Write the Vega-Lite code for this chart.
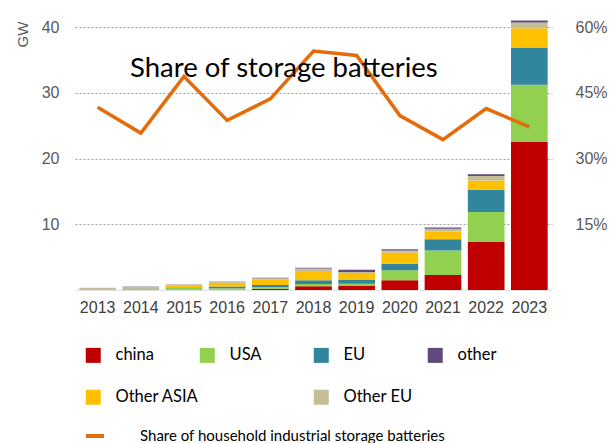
{
  "$schema": "https://vega.github.io/schema/vega-lite/v6.json",
  "autosize": {"type": "none"},
  "width": 477,
  "height": 263,
  "padding": {"left": 75, "top": 27, "right": 59, "bottom": 153},
  "background": "white",
  "config": {"view": {"stroke": null}, "font": "Liberation Sans"},
  "title": {
    "text": "Share of storage batteries",
    "anchor": "start",
    "orient": "top",
    "frame": "group",
    "offset": 0,
    "dx": 55,
    "dy": 85,
    "baseline": "alphabetic",
    "font": "Lato",
    "fontSize": 27.5,
    "fontWeight": "normal",
    "color": "#000000"
  },
  "datasets": {
    "bars": [
      {"year": "2013", "region": "china", "gw": 0},
      {"year": "2013", "region": "USA", "gw": 0.08},
      {"year": "2013", "region": "EU", "gw": 0.02},
      {"year": "2013", "region": "Other ASIA", "gw": 0.05},
      {"year": "2013", "region": "Other EU", "gw": 0.18},
      {"year": "2013", "region": "other", "gw": 0.0},
      {"year": "2014", "region": "china", "gw": 0.02},
      {"year": "2014", "region": "USA", "gw": 0.15},
      {"year": "2014", "region": "EU", "gw": 0.05},
      {"year": "2014", "region": "Other ASIA", "gw": 0.05},
      {"year": "2014", "region": "Other EU", "gw": 0.23},
      {"year": "2014", "region": "other", "gw": 0.03},
      {"year": "2015", "region": "china", "gw": 0.02},
      {"year": "2015", "region": "USA", "gw": 0.3},
      {"year": "2015", "region": "EU", "gw": 0.05},
      {"year": "2015", "region": "Other ASIA", "gw": 0.35},
      {"year": "2015", "region": "Other EU", "gw": 0.08},
      {"year": "2015", "region": "other", "gw": 0.02},
      {"year": "2016", "region": "china", "gw": 0.05},
      {"year": "2016", "region": "USA", "gw": 0.2},
      {"year": "2016", "region": "EU", "gw": 0.3},
      {"year": "2016", "region": "Other ASIA", "gw": 0.55},
      {"year": "2016", "region": "Other EU", "gw": 0.15},
      {"year": "2016", "region": "other", "gw": 0.03},
      {"year": "2017", "region": "china", "gw": 0.2},
      {"year": "2017", "region": "USA", "gw": 0.25},
      {"year": "2017", "region": "EU", "gw": 0.3},
      {"year": "2017", "region": "Other ASIA", "gw": 0.8},
      {"year": "2017", "region": "Other EU", "gw": 0.25},
      {"year": "2017", "region": "other", "gw": 0.05},
      {"year": "2018", "region": "china", "gw": 0.56},
      {"year": "2018", "region": "USA", "gw": 0.36},
      {"year": "2018", "region": "EU", "gw": 0.56},
      {"year": "2018", "region": "Other ASIA", "gw": 1.4},
      {"year": "2018", "region": "Other EU", "gw": 0.4},
      {"year": "2018", "region": "other", "gw": 0.1},
      {"year": "2019", "region": "china", "gw": 0.6},
      {"year": "2019", "region": "USA", "gw": 0.36},
      {"year": "2019", "region": "EU", "gw": 0.56},
      {"year": "2019", "region": "Other ASIA", "gw": 0.9},
      {"year": "2019", "region": "Other EU", "gw": 0.3},
      {"year": "2019", "region": "other", "gw": 0.35},
      {"year": "2020", "region": "china", "gw": 1.5},
      {"year": "2020", "region": "USA", "gw": 1.5},
      {"year": "2020", "region": "EU", "gw": 1.0},
      {"year": "2020", "region": "Other ASIA", "gw": 1.7},
      {"year": "2020", "region": "Other EU", "gw": 0.3},
      {"year": "2020", "region": "other", "gw": 0.2},
      {"year": "2021", "region": "china", "gw": 2.3},
      {"year": "2021", "region": "USA", "gw": 3.7},
      {"year": "2021", "region": "EU", "gw": 1.7},
      {"year": "2021", "region": "Other ASIA", "gw": 1.2},
      {"year": "2021", "region": "Other EU", "gw": 0.4},
      {"year": "2021", "region": "other", "gw": 0.2},
      {"year": "2022", "region": "china", "gw": 7.3},
      {"year": "2022", "region": "USA", "gw": 4.55},
      {"year": "2022", "region": "EU", "gw": 3.4},
      {"year": "2022", "region": "Other ASIA", "gw": 1.4},
      {"year": "2022", "region": "Other EU", "gw": 0.7},
      {"year": "2022", "region": "other", "gw": 0.25},
      {"year": "2023", "region": "china", "gw": 22.5},
      {"year": "2023", "region": "USA", "gw": 8.7},
      {"year": "2023", "region": "EU", "gw": 5.7},
      {"year": "2023", "region": "Other ASIA", "gw": 2.9},
      {"year": "2023", "region": "Other EU", "gw": 0.9},
      {"year": "2023", "region": "other", "gw": 0.3}
    ],
    "share": [
      {"year": "2013", "share": 0.417, "series": "Share of household industrial storage batteries"},
      {"year": "2014", "share": 0.358, "series": "Share of household industrial storage batteries"},
      {"year": "2015", "share": 0.487, "series": "Share of household industrial storage batteries"},
      {"year": "2016", "share": 0.387, "series": "Share of household industrial storage batteries"},
      {"year": "2017", "share": 0.436, "series": "Share of household industrial storage batteries"},
      {"year": "2018", "share": 0.545, "series": "Share of household industrial storage batteries"},
      {"year": "2019", "share": 0.535, "series": "Share of household industrial storage batteries"},
      {"year": "2020", "share": 0.398, "series": "Share of household industrial storage batteries"},
      {"year": "2021", "share": 0.343, "series": "Share of household industrial storage batteries"},
      {"year": "2022", "share": 0.414, "series": "Share of household industrial storage batteries"},
      {"year": "2023", "share": 0.372, "series": "Share of household industrial storage batteries"}
    ]
  },
  "layer": [
    {
      "data": {"name": "bars"},
      "transform": [
        {"calculate": "indexof(['china','USA','EU','Other ASIA','Other EU','other'], datum.region)", "as": "stackOrder"}
      ],
      "mark": {"type": "bar"},
      "encoding": {
        "x": {
          "field": "year",
          "type": "ordinal",
          "scale": {"paddingInner": 0.15, "paddingOuter": 0.1},
          "axis": {
            "title": null,
            "labelAngle": 0,
            "ticks": false,
            "domain": true,
            "domainColor": "#e0e0e0",
            "labelFontSize": 16,
            "labelColor": "#404040",
            "labelPadding": 9,
            "labelFont": "Liberation Sans"
          }
        },
        "y": {
          "aggregate": "sum",
          "field": "gw",
          "type": "quantitative",
          "scale": {"domain": [0, 40], "nice": false},
          "axis": {
            "title": "GW",
            "values": [10, 20, 30, 40],
            "grid": true,
            "gridDash": [2, 2],
            "gridColor": "#a0a0a0",
            "gridWidth": 1,
            "domain": false,
            "ticks": false,
            "labelFontSize": 16,
            "labelColor": "#595959",
            "labelPadding": 16,
            "titleAngle": 270,
            "titleX": -53,
            "titleY": 7,
            "titleAlign": "center",
            "titleBaseline": "middle",
            "titleFontSize": 15,
            "titleFontWeight": "normal",
            "titleColor": "#595959"
          }
        },
        "color": {
          "field": "region",
          "type": "nominal",
          "scale": {
            "domain": ["china", "USA", "EU", "other", "Other ASIA", " ", "Other EU"],
            "range": ["#C00000", "#92D050", "#31859C", "#604A7B", "#FFC000", "#FFFFFF", "#C4BD97"]
          },
          "legend": {
            "title": null,
            "orient": "none",
            "legendX": 10,
            "legendY": 320,
            "columns": 4,
            "direction": "horizontal",
            "gridAlign": "all",
            "columnPadding": 0,
            "rowPadding": 25,
            "padding": 0,
            "symbolType": "square",
            "symbolSize": 225,
            "symbolStrokeWidth": 0,
            "symbolOpacity": 1,
            "labelOffset": 14,
            "labelFont": "Lato",
            "labelFontSize": 16.5,
            "labelColor": "#000000",
            "labelLimit": 200
          }
        },
        "order": {"field": "stackOrder", "type": "quantitative"}
      }
    },
    {
      "data": {"name": "share"},
      "mark": {"type": "line", "strokeWidth": 3.5},
      "encoding": {
        "x": {"field": "year", "type": "ordinal"},
        "y": {
          "field": "share",
          "type": "quantitative",
          "scale": {"domain": [0, 0.6], "nice": false},
          "axis": {
            "orient": "right",
            "title": null,
            "values": [0.15, 0.3, 0.45, 0.6],
            "format": ".0%",
            "grid": false,
            "domain": false,
            "ticks": false,
            "offset": 19,
            "labelPadding": 4,
            "labelFontSize": 16,
            "labelColor": "#595959"
          }
        },
        "stroke": {
          "field": "series",
          "type": "nominal",
          "scale": {"range": ["#E46C0A"]},
          "legend": {
            "title": null,
            "orient": "none",
            "legendX": 9,
            "legendY": 398,
            "padding": 0,
            "symbolType": "stroke",
            "symbolSize": 324,
            "symbolStrokeWidth": 4,
            "labelOffset": 34,
            "labelFont": "Lato",
            "labelFontSize": 15,
            "labelColor": "#000000",
            "labelLimit": 500
          }
        }
      }
    }
  ],
  "resolve": {"scale": {"y": "independent", "color": "independent"}}
}
